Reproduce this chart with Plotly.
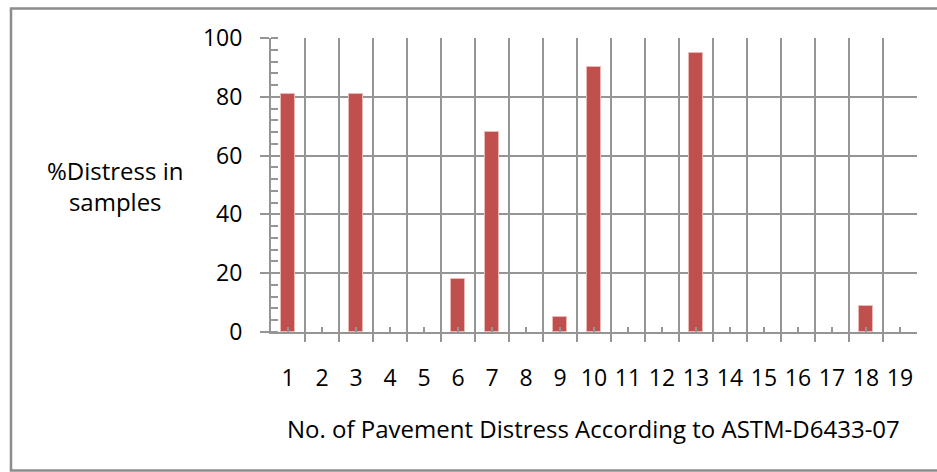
import plotly.graph_objects as go

categories = list(range(1, 20))
tick_labels = [str(c) for c in categories]
distress_pct = [81, 0, 81, 0, 0, 18, 68, 0, 5, 90, 0, 0, 95, 0, 0, 0, 0, 9, 0]
y_ticks = [0, 20, 40, 60, 80, 100]

W, H = 937, 472
L, R, T, B = 271, 20, 38, 140
pw, ph = W - L - R, H - T - B

def px_x(p):
    return (p - L) / pw

def px_y(p):
    return (H - B - p) / ph

FONT = "Open Sans"
GRID = "#959595"

xs = [c for c, v in zip(categories, distress_pct) if v > 0]
ys = [v for v in distress_pct if v > 0]

fig = go.Figure()
fig.add_trace(go.Bar(
    x=xs, y=ys, width=0.4,
    marker=dict(color="#C0504D", line=dict(color="#EBB8B6", width=1)),
    hoverinfo="x+y",
))

fig.update_layout(
    width=W, height=H,
    margin=dict(l=L, r=R, t=T, b=B),
    paper_bgcolor="white", plot_bgcolor="white",
    showlegend=False,
    font=dict(family=FONT, size=23, color="black"),
    bargap=0,
    xaxis=dict(
        range=[0.5, 19.5], tickmode="array", tickvals=categories, ticktext=tick_labels,
        ticks="inside", ticklen=5, tickwidth=2, tickcolor=GRID,
        showgrid=False, zeroline=False,
        showline=True, linecolor=GRID, linewidth=2,
        ticklabelstandoff=24,
        tickfont=dict(family=FONT, size=23, color="black"),
        minor=dict(tick0=0.5, dtick=1, ticks="outside", ticklen=8, tickwidth=2,
                   tickcolor=GRID, showgrid=True, gridcolor=GRID, gridwidth=2),
        fixedrange=True,
    ),
    yaxis=dict(
        range=[0, 100], tickmode="array", tickvals=y_ticks,
        ticks="outside", ticklen=9, tickwidth=2, tickcolor=GRID,
        showgrid=True, gridcolor=GRID, gridwidth=2, zeroline=False,
        showline=True, linecolor=GRID, linewidth=2,
        ticklabelstandoff=13,
        tickfont=dict(family=FONT, size=23, color="black"),
        minor=dict(dtick=4, tick0=0, ticks="inside", ticklen=7, tickwidth=2,
                   tickcolor=GRID, showgrid=False),
        fixedrange=True,
    ),
    annotations=[
        dict(text="%Distress in<br>samples", xref="paper", yref="paper",
             x=px_x(115), y=px_y(186), xanchor="center", yanchor="middle",
             showarrow=False, align="center",
             font=dict(family=FONT, size=24, color="black")),
        dict(text="No. of Pavement Distress According to ASTM-D6433-07",
             xref="paper", yref="paper", x=px_x(593), y=px_y(428),
             xanchor="center", yanchor="middle", showarrow=False,
             font=dict(family=FONT, size=24, color="black")),
    ],
    shapes=[
        dict(type="rect", xref="paper", yref="paper",
             x0=px_x(11), x1=px_x(945), y0=px_y(470.5), y1=px_y(8.5),
             line=dict(color="#8C8C8C", width=2.5), fillcolor="rgba(0,0,0,0)",
             layer="below"),
    ],
)

fig.write_html("out.html", config={"displayModeBar": False},
               post_script="document.body.style.margin='0';document.body.style.overflow='hidden';")
